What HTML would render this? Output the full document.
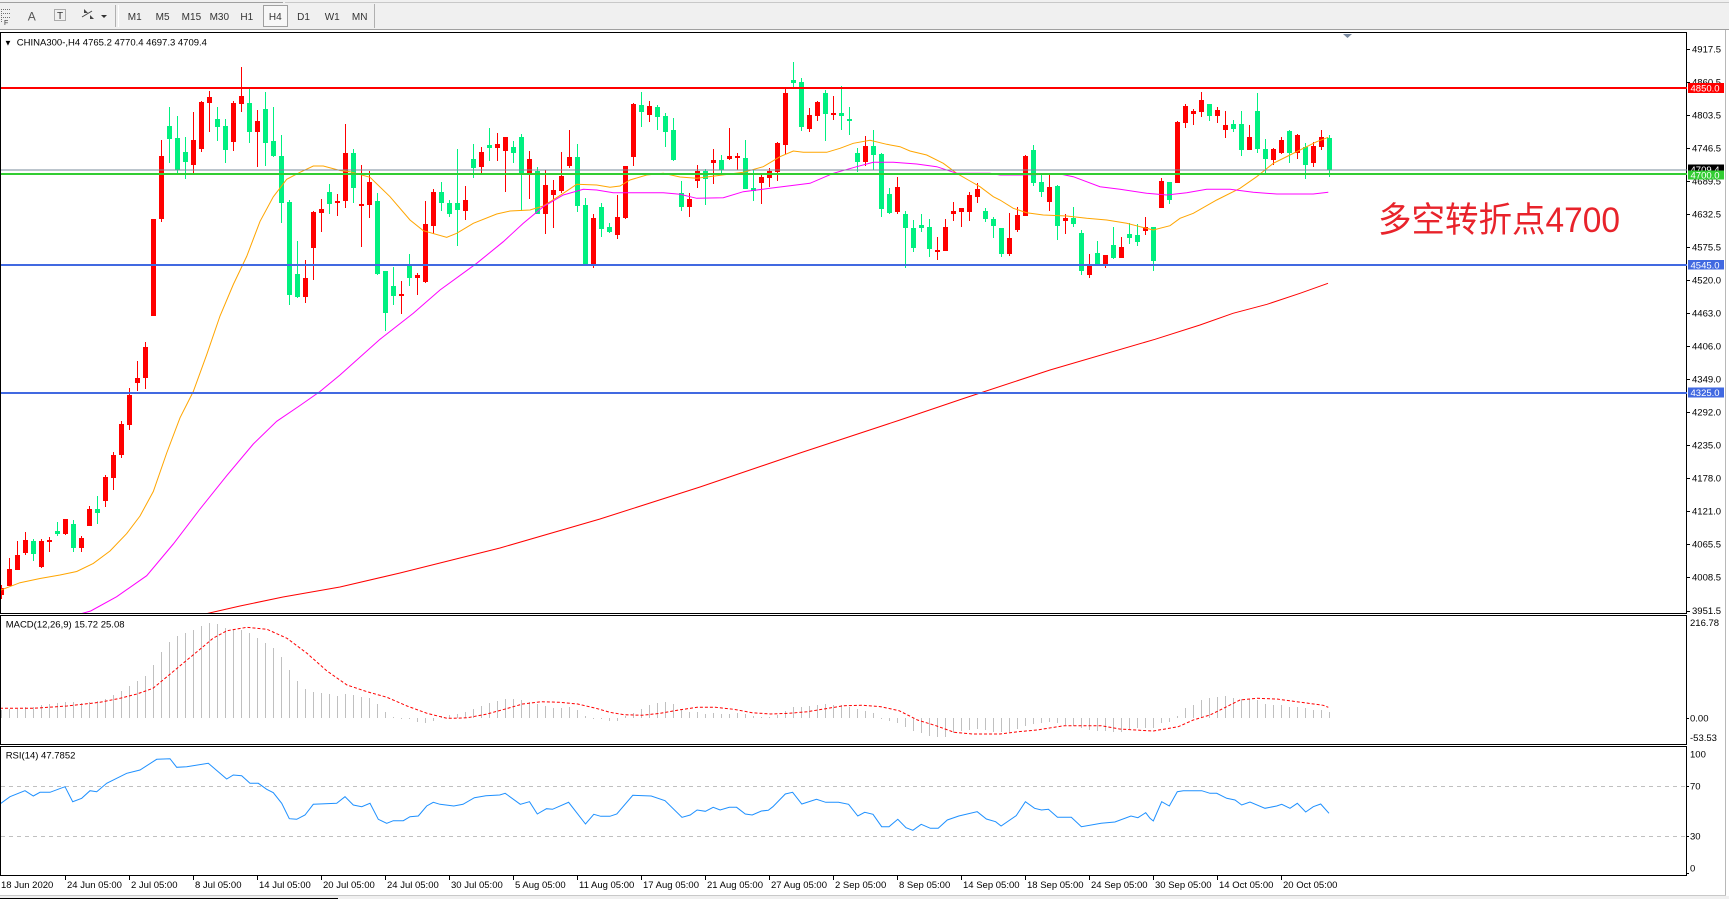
<!DOCTYPE html>
<html><head><meta charset="utf-8">
<style>
html,body{margin:0;padding:0;background:#fff;}
body{width:1729px;height:899px;overflow:hidden;}
svg text{font-family:"Liberation Sans","Noto Sans CJK SC",sans-serif;}
</style></head><body>
<svg id="s" width="1729" height="899" xmlns="http://www.w3.org/2000/svg">
<defs>
<clipPath id="cm"><rect x="1" y="34" width="1685" height="579"/></clipPath>
<clipPath id="cd"><rect x="1" y="616" width="1685" height="128"/></clipPath>
<clipPath id="cr"><rect x="1" y="747" width="1685" height="128"/></clipPath>
</defs>
<!-- toolbar -->
<rect x="0" y="0" width="1729" height="30" fill="#f0f0f0"/>
<line x1="0" y1="2.5" x2="283" y2="2.5" stroke="#a0a0a0"/>
<line x1="285" y1="2.5" x2="1729" y2="2.5" stroke="#c8c8c8"/>
<line x1="0" y1="29.5" x2="1729" y2="29.5" stroke="#a0a0a0"/>
<g stroke="#707070" stroke-dasharray="1,1" shape-rendering="crispEdges">
<line x1="1" y1="9.5" x2="10" y2="9.5"/><line x1="1" y1="13.5" x2="10" y2="13.5"/><line x1="1" y1="17.5" x2="10" y2="17.5"/>
<line x1="1.5" y1="9" x2="1.5" y2="22"/>
</g>
<text x="4" y="25" font-size="7" fill="#333">F</text>
<text x="31.8" y="20.5" font-size="12" fill="#555" text-anchor="middle">A</text>
<rect x="54.5" y="9.5" width="11" height="11" fill="none" stroke="#666" stroke-dasharray="1,1"/>
<text x="60" y="19" font-size="10" fill="#333" text-anchor="middle">T</text>
<polygon points="84,9 88,13 84,13" fill="#444"/><polygon points="90,15 94,19 90,19" fill="#444"/>
<line x1="82" y1="17" x2="92" y2="11" stroke="#444"/>
<polygon points="101,15 107,15 104,18" fill="#333"/>
<g stroke="#b0b0b0" shape-rendering="crispEdges"><line x1="115.5" y1="5" x2="115.5" y2="27"/><line x1="118.5" y1="5" x2="118.5" y2="27" stroke="#fff"/><line x1="374.5" y1="4" x2="374.5" y2="28"/></g>
<rect x="263.5" y="5.5" width="24" height="21" fill="#f7f7f7" stroke="#a0a0a0"/>
<g font-size="10" fill="#333" text-anchor="middle">
<text x="134.7" y="20">M1</text><text x="162.6" y="20">M5</text><text x="191.4" y="20">M15</text><text x="219.3" y="20">M30</text><text x="246.8" y="20">H1</text><text x="275.3" y="20">H4</text><text x="303.5" y="20">D1</text><text x="332.2" y="20">W1</text><text x="359.7" y="20">MN</text>
</g>
<!-- frame -->
<line x1="1725.5" y1="30" x2="1725.5" y2="896" stroke="#b8b8b8"/>
<rect x="0" y="896" width="1729" height="3" fill="#f0f0f0"/>
<line x1="0" y1="895.5" x2="1726" y2="895.5" stroke="#c8c8c8"/>
<line x1="0" y1="898.5" x2="338" y2="898.5" stroke="#000"/>
<g fill="none" stroke="#000" shape-rendering="crispEdges">
<rect x="0.5" y="32.5" width="1686" height="581"/>
<rect x="0.5" y="615.5" width="1686" height="129"/>
<rect x="0.5" y="746.5" width="1686" height="129"/>
</g>
<polygon points="1343,34 1352,34 1347.5,38" fill="#7a8aa0"/>
<!-- candles -->
<g id="candles" clip-path="url(#cm)" shape-rendering="crispEdges"></g>
<!-- MAs -->
<g clip-path="url(#cm)" fill="none" stroke-width="1">
<polyline stroke="#ffa500" points="0,590.4 20,582.7 40,578.5 60,575 76.7,571.5 93.3,563.4 110,551 126.7,533.6 140,516 153.3,491.5 166.7,453 180,417.8 193.3,391.5 206.7,354.7 220,316 233.3,284.5 246.7,256.4 260,221.4 273.3,196.8 286.7,179.3 300,172.3 313.3,166 323.3,166 340,170.5 350,171.7 370,177.3 390,196.7 410,220 423.3,230.7 446.7,237.3 456.7,233.3 473.3,223.3 496.7,214 510,211 530,210 543.3,206 563.3,193.3 576.7,184.3 596.7,185 610,187.3 620,186 630,180 646.7,175 663.3,173.3 680,177 696.7,178.3 716.7,175.7 743.3,172.3 763.3,166.7 780,156.7 793.3,151 803.3,152.3 826.7,152.3 840,148.3 853.3,143.3 870,140.3 886.7,144.3 900,146.7 910,151 926.7,155 943.3,163.3 956.7,173.3 970,181 980,186.7 993.3,196.7 1000,200 1013.3,208.3 1026.7,212.7 1043.3,215 1066.7,216 1086.7,218.3 1106.7,220 1126.7,223.3 1140,226.7 1153.3,230 1170,225.7 1180,218.3 1193.3,213.3 1216.7,200 1240,188.3 1256.7,176.7 1273.3,163.3 1290,155 1306.7,146.7 1316.7,141.7 1328.3,137.3"/>
<polyline stroke="#ff00ff" points="80,614 90.7,611 116.7,596.7 146.7,575.7 173.3,544 200,509 226.7,475.7 253.3,444 276.7,421.3 300,405.5 320,391.5 340,375 380,339.3 413.3,313.3 440,290 476.7,263.3 503.3,241.7 523.3,223.3 543.3,206.7 563.3,195 583.3,189.3 596.7,190 613.3,192.7 663.3,192.7 680,194.3 696.7,198.3 723.3,197.7 743.3,191.7 770,188.3 810,183.3 833.3,173.3 856.7,166.7 873.3,162.3 893.3,162.3 916.7,164 936.7,166.7 956.7,173.3 990,173.3 1000,175 1020,175 1060,174 1073.3,176.7 1100,186.7 1120,189.3 1146.7,193.3 1166.7,195 1186.7,192.7 1206.7,189.3 1230,189.3 1253.3,192.3 1276.7,194 1313.3,194 1328.3,192.3"/>
<polyline stroke="#ff0000" points="205,614 240,606 283,597 340,587 400,573 500,548 600,519 700,487 800,453 900,420 965,398 1050,370 1155,339.3 1200,325 1233,313.3 1267,304.3 1300,293.3 1328,283.3"/>
</g>
<!-- horizontal lines -->
<g shape-rendering="crispEdges">
<rect x="1" y="87" width="1686" height="2" fill="#ff0000"/>
<rect x="1" y="169.5" width="1686" height="1" fill="#778899"/>
<rect x="1" y="173" width="1686" height="2" fill="#32cd32"/>
<rect x="1" y="264" width="1686" height="2" fill="#4169e1"/>
<rect x="1" y="392" width="1686" height="2" fill="#4169e1"/>
</g>
<text x="1378" y="232" font-size="35" fill="#e8232b" textLength="242" lengthAdjust="spacingAndGlyphs">多空转折点4700</text>
<text x="4" y="45.5" font-size="8" fill="#000">▼</text>
<text x="16.8" y="45.5" font-size="9.5" fill="#000">CHINA300-,H4  4765.2 4770.4 4697.3 4709.4</text>
<!-- price axis -->
<g id="axis" font-size="9.5" fill="#000"></g>
<g font-size="9.5" fill="#fff" shape-rendering="crispEdges">
<rect x="1688" y="83" width="36" height="10" fill="#ff0000"/><text x="1690.5" y="91.5">4850.0</text>
<rect x="1688" y="164.5" width="36" height="10" fill="#000"/><text x="1690.5" y="173">4709.4</text>
<rect x="1688" y="170.5" width="36" height="9" fill="#32cd32"/><text x="1690.5" y="178.5">4700.0</text>
<rect x="1688" y="260" width="36" height="9.5" fill="#4169e1"/><text x="1690.5" y="268.5">4545.0</text>
<rect x="1688" y="387.5" width="36" height="10" fill="#4169e1"/><text x="1690.5" y="396">4325.0</text>
</g>
<!-- MACD -->
<g id="hist" clip-path="url(#cd)" shape-rendering="crispEdges"></g>
<polyline clip-path="url(#cd)" fill="none" stroke="#ff0000" stroke-width="1" stroke-dasharray="3,2" points="0,708.3 33,708.3 67,706 100,702.3 120,698.3 137,694 153,688.3 167,676.7 187,660 200,649.3 213,638.3 227,630.7 247,627.3 267,629.3 287,638.3 307,653.3 327,671 347,685 367,691.7 387,697.3 407,706 427,713.3 447,718.3 454,718.3 467.5,717.7 485.9,714.3 504.3,709.3 522.6,704 541,701.7 559.4,702.3 577.7,704 596.1,708.3 609.9,712.3 623.7,714.7 642,715.3 660.4,713.3 678.7,710 697.1,707.3 715.5,707.3 733.8,709.3 752.2,712.7 770.6,714 788.9,713.3 807.3,711.7 825.7,708.7 844,705.7 862.4,705.3 880.8,706.7 899.1,710.7 917.5,720 935.9,725.7 954.2,732.3 972.6,734 1000.1,734 1018.5,731.7 1036.9,730 1064.4,725.7 1101.2,725.7 1119.5,729 1147,730.7 1153.3,731 1178.3,726.7 1193.3,720 1210,715 1226.7,706.7 1240,700 1256.7,698.3 1276.7,699 1296.7,701.7 1323.3,705.3 1328.3,707.3"/>
<text x="5.7" y="627.5" font-size="9.5" fill="#000">MACD(12,26,9) 15.72 25.08</text>
<g font-size="9.5" fill="#000">
<text x="1690" y="626">216.78</text><text x="1690" y="721.5">0.00</text><text x="1690" y="741">-53.53</text>
<text x="1690" y="757.3">100</text><text x="1690" y="789.5">70</text><text x="1690" y="839.5">30</text><text x="1690" y="871.5">0</text>
</g>
<g stroke="#000" shape-rendering="crispEdges"><line x1="1686" y1="718.5" x2="1689" y2="718.5"/><line x1="1686" y1="786.5" x2="1689" y2="786.5"/><line x1="1686" y1="836.5" x2="1689" y2="836.5"/><line x1="1686" y1="873.5" x2="1689" y2="873.5"/></g>
<!-- RSI -->
<g stroke="#c0c0c0" stroke-dasharray="4,4" shape-rendering="crispEdges">
<line x1="1" y1="786.5" x2="1686" y2="786.5"/><line x1="1" y1="836.5" x2="1686" y2="836.5"/>
</g>
<polyline clip-path="url(#cr)" fill="none" stroke="#1e90ff" stroke-width="1" points="0,804 10,796.7 25,790.7 33.3,796 40,792.3 50,792.3 65,786.7 72.7,801.7 81.7,798.3 90,790.7 96.7,791.7 106.7,783.3 126.7,773.3 140,770 156.7,759.3 170,758.7 176.7,767.3 186.7,766.7 208.3,763.3 226.7,779 233.3,775 241.7,775.7 250,783.3 258.3,783.3 266.7,789.3 273.3,792.7 281.7,803.3 289.3,818.7 296.7,819.3 305,815 313.3,804.3 336.7,803.3 345,796.7 353.3,805 361.7,806.7 370,803.3 378.3,819.3 386.7,823.3 393.3,820.7 403.3,820.7 410,816.7 418.3,816 426.7,806 433.3,802.3 440,804.3 453.8,806 463,804.3 474.4,797.7 485.9,795.7 499.7,795 505.2,793.3 520.3,804.3 529.5,801.7 537.3,814 546.5,808.7 552.5,809.3 568.6,802.3 585.5,824 593.8,814.3 600.7,816.3 609.9,816.3 616.8,814 632.8,795.3 651.2,796 665,800.7 682,817.3 690.2,815 697.1,810 705.4,811.3 713.2,807.3 720.1,810 729.3,807.3 736.6,807.3 745.3,814 752.2,815 761.4,811 768.3,810.3 772.9,806.7 785.3,794 792.6,792.3 801.8,804 816.5,799.3 825.7,802.3 838.5,802.3 848.6,804.3 857.8,816 864.7,812.3 873,814.3 881.7,826.7 889,826.7 897.8,819.3 906,827.7 912.9,830.3 921.2,824.3 930.4,828.3 938.2,828.3 947.3,820 958.8,816 977.2,811.7 986.4,819 995.6,821.7 1001.1,826 1016.2,815.7 1025.4,801.7 1034.6,808.3 1041.5,810 1048.4,809.3 1057.5,817.3 1071.3,817.3 1081.4,826.7 1101.2,823.3 1114.9,822 1131,816 1137.9,817.7 1145.7,812.7 1150,818.3 1153.3,821 1161.7,801.7 1169.3,806 1177.3,791.7 1183.3,790.7 1201.7,790.7 1210,793.3 1216.7,793.3 1226.7,798.3 1235,800 1241.7,805 1250,802 1265,808.3 1276.7,806 1281.7,804.3 1290,808.3 1297.3,803.3 1305.7,812 1313.3,806.7 1320.7,804 1329,813.3"/>
<text x="5.7" y="758.5" font-size="9.5" fill="#000">RSI(14) 47.7852</text>
<!-- dates -->
<g id="dates" font-size="9.5" fill="#000"></g>
</svg>
<script>
(function(){
var NS='http://www.w3.org/2000/svg';
function el(p,t,a,txt){var e=document.createElementNS(NS,t);for(var k in a)e.setAttribute(k,a[k]);if(txt!==undefined)e.textContent=txt;p.appendChild(e);return e;}
var C=[[1,588,595,585,598.5],[1,568.7,586.2,558.1,586.2],[1,555,569.7,541,569.7],[1,539.9,552.5,531.8,554.6],[0,540.6,553.6,538.8,560.6],[1,540.6,566.6,538.8,568],[1,539.5,541.6,537.1,551.8],[0,531.1,533.6,522,536.4],[1,519.2,533.9,519,534.6],[0,524.1,547.6,519.9,552.2],[1,537.8,547.6,536.4,552.2],[1,509,525.9,506.2,526],[0,509,512.5,496,523.8],[1,476.8,501.3,475,507.3],[1,455.4,477.5,451.8,489.7],[1,424.1,454.7,420.6,458.2],[1,395,424.8,388,430.1],[1,378.2,383.4,360.6,390.8],[1,347,378.2,341.7,388.7],[1,218.9,315.7,218.9,315.7],[1,156.1,218.9,140,222.4],[0,126,138.6,106.7,162.8],[0,137.5,170.2,116.1,174],[0,151.9,161.7,137.2,178.6],[1,140,164.5,111.9,174],[1,102.1,148.8,101,151.9],[1,96.5,102.8,90.9,131.9],[0,118.9,126.7,107.4,141],[0,126,150.2,118.9,162.8],[1,103.1,141.7,101.4,150.5],[1,96.1,103.5,67,111.6],[0,103.1,131.9,89.1,143.1],[1,121,131.6,110.2,167],[0,109.1,143.1,91.9,165.6],[0,141,156.1,106.7,157.2],[0,156.1,202.8,134.7,223.1],[0,202.1,294.7,200.3,304.5],[0,274,297.1,241,298.2],[1,277.5,297.1,260,302.8],[1,211.9,248,211.2,280],[1,209.1,212.6,198.9,231.9],[0,191.9,203.8,183.8,213.7],[1,201,202.8,193.5,215.5],
[1,153,201,124,207.7],[0,153,187.7,149,202.7],[1,204,205.7,165,246.7],[1,182,204.7,170.7,217.7],[0,201,273.7,193.3,275],[0,271,312.7,271,330.7],[0,286,295.7,266.7,305],[1,294,295.7,281,314],[0,265,277.7,254,285.7],[1,275,277.7,272.7,295],[1,224,281.7,201,282.7],[1,192,225.7,189,234],[0,192,202.7,182,211],[0,203.3,214,200,216.7],[0,203.3,209.7,149,245.7],[1,200,210.7,186,219.7],[0,159,167.7,144,177.7],[1,152,166.7,147.3,172.7],[0,145,147.7,128,160.7],[1,144,147.7,133,160.7],[1,137,150.7,137,191.7],[0,147.3,153,140.7,162.7],[0,137,174.3,133.7,211],[1,159,173.7,150.7,198.7],[0,171,214,167,214],[1,185,213.7,170.3,233.7],[1,190,195,180,228.3],[1,175.7,190.7,152,193],[1,157,166,130,167.7],[0,157,205.7,144,211.7],[0,205,264,198.3,264],[1,218,264,214.3,268.3],[0,207,228.7,202.7,236.7],[0,227,231.7,222.7,232.7],[1,217,234.7,194.7,239.3],[1,166,218,166,219],[1,103.7,156.7,102.7,166],[0,105,111.7,92,126.7],[1,106.3,114.7,101,122],[0,107,116.7,105,130],[0,116,132,113.3,146.7],[0,130,160,118.3,161],
[0,193,206.7,181,210.7],[1,199,206.7,193,216.7],[1,170.7,180.7,165,187.7],[0,170.7,179,168.7,204.7],[1,160.3,162.7,149,183.7],[0,160.3,170.3,155,174],[1,156,158.7,128,159.7],[1,155.7,157.7,153,170.3],[0,158,188.7,140,188.7],[0,188.3,191,170.3,200.7],[1,176.7,182.7,175,203.7],[1,170.7,177.7,168,186.7],[1,143,171.7,142.3,180.7],[1,93,144.7,88.3,154],[0,80,82.7,62,87],[0,82,126.7,78,130.7],[1,115,128.7,108.3,131.7],[1,102,115.7,100.7,120.7],[0,93,114,90,140.7],[1,113,115,96,120],[0,113,115.7,86,130],[0,119,120.7,107,135],[0,153,162,148.3,171.7],[1,146,162,136,166],[0,146,154.7,130,170.3],[0,154,208.7,153,216.7],[0,194,212.7,188.3,213.7],[1,187,211.7,177,213.7],[0,214,227.7,211,267.7],[0,228,247.7,220,251.7],[0,225,227.7,214,231.7],[0,227,248.7,219,256.7],[1,250,251.7,237,259.7],[1,227,250.7,219,250.7],[1,211,213.7,202,220.7],[1,208,211.7,208,226.7],[1,195,211.7,192,220.7],[1,189,196.7,183,202.7],[0,211,218.7,208,221.7],[0,219,225.7,217,237.7],[0,228,253.7,228,256.7],
[1,238,253.5,213,255.7],[1,215,229.7,207,232],[1,156,215.7,155.3,215.7],[0,150,183.3,145,185.7],[0,182,191.7,175,196.7],[1,187,201.7,173,211],[0,186,225.7,185,240],[1,218,220.7,214,234],[0,218,223.7,207,226.7],[0,233.3,270.7,230,275],[1,266,275.3,254,277.7],[0,253,264,241,264],[1,255,264,255,267.7],[0,245,258,226.7,259],[1,247,257.7,237,257.7],[0,234,237.7,223,243.7],[0,235,241.7,223.7,246],[1,227,230.7,217,234.7],[0,227,261,227,270.7],[1,181,207.7,178,207.7],[0,182,200,182,204],[1,122,182.7,121,182.7],[1,106,122.7,103.7,128],[1,110.7,113.7,108.7,125],[1,100,111.7,92,116.7],[0,104,115.7,104,121],[1,110,115.7,107,123],[1,125,129.7,111,138],[0,124,129,120,132],[0,124,150,111,156],[1,137,150,125,150],[0,111,149,93,153],[0,149,159,139,173],[1,149,160,148,165],[1,140,153,137,154],[0,131,153,130,163],[1,135,153,134,159],[0,147,165,143,179],[1,146,163,142,167],[1,137,147,130,150],[0,137.8,170.2,134.8,177.3]];
var g=document.getElementById('candles');
C.forEach(function(c,i){
 var col=c[0]?'#ff0000':'#00f080';var x=8*i;
 var hi=Math.round(c[3]),lo=Math.round(c[4]),t=Math.round(c[1]),b=Math.round(c[2]);
 el(g,'rect',{x:x+1,y:hi,width:1,height:Math.max(1,lo-hi),fill:col});
 el(g,'rect',{x:x-1,y:t,width:5,height:Math.max(1,b-t),fill:col});
});
var H=[710,709.3,709,707.3,706.7,705,704,703.3,702,702,702.7,701.7,701,699.3,695,690.7,686,681,676,665,652.3,642,636,633.3,630,626,623.3,624,628.3,629.3,630,633.3,638.3,643.3,648.3,656.7,670,681,689.3,691.7,693.3,694.3,696,694.3,695,697.3,698.3,704,711.7,716.7,718,719.3,721.7,723.3,720.7,716,715,
713.7,711.7,708.7,706,703.3,700.7,699,699,700,702.3,704.3,706,707.7,707.7,706.7,710,716,719,718,720.7,721,715.7,713.3,709,705,703,702,704,709.3,712,712,713.7,713,713.7,713.7,712.7,714.3,716.3,716.7,717,715,711.3,707.3,706.7,705.7,705,704,705,705.3,706.7,709,711,713,718,720.7,722.7,726.7,730.7,732.7,735.7,737.3,737.3,732.7,730.7,730,729.3,730,731.7,732.3,731.7,729.3,725.7,724,722.7,722.3,723.3,725,726,727.7,730,731,731,731.7,731.7,729.3,727.7,727.7,
728.3,723.3,721.7,715.7,708.3,705,700,697.7,697,696,697.7,698.7,699.3,700,704,705,705,706.7,706.7,708.3,710,710,711.7];
var hg=document.getElementById('hist');var Z=718;
H.forEach(function(v,i){var y=Math.round(v);var t=Math.min(y,Z),h=Math.abs(y-Z);if(h<1)h=1;
 el(hg,'rect',{x:8*i+1,y:t,width:1,height:h,fill:'#c0c0c0'});});
var ax=document.getElementById('axis');
var T=[['4917.5',49.3],['4860.5',82.3],['4803.5',115.3],['4746.5',148.3],['4689.5',181.3],['4632.5',214.3],['4575.5',247.3],['4520.0',280.3],['4463.0',313.3],['4406.0',346.3],['4349.0',379.3],['4292.0',412.3],['4235.0',445.3],['4178.0',478.3],['4121.0',511.3],['4065.5',544.3],['4008.5',577.3],['3951.5',610.5]];
T.forEach(function(t){var y=Math.round(t[1])+0.5;
 el(ax,'line',{x1:1686,y1:y,x2:1690,y2:y,stroke:'#000','shape-rendering':'crispEdges'});
 el(ax,'text',{x:1692,y:t[1]+3.4},t[0]);});
var D=['18 Jun 2020','24 Jun 05:00','2 Jul 05:00','8 Jul 05:00','14 Jul 05:00','20 Jul 05:00','24 Jul 05:00','30 Jul 05:00','5 Aug 05:00','11 Aug 05:00','17 Aug 05:00','21 Aug 05:00','27 Aug 05:00','2 Sep 05:00','8 Sep 05:00','14 Sep 05:00','18 Sep 05:00','24 Sep 05:00','30 Sep 05:00','14 Oct 05:00','20 Oct 05:00'];
var dg=document.getElementById('dates');
D.forEach(function(d,k){var x=1+64*k;
 if(k>0)el(dg,'line',{x1:x+0.5,y1:876,x2:x+0.5,y2:880,stroke:'#000','shape-rendering':'crispEdges'});
 el(dg,'text',{x:(k==0?1:x+2),y:888},d);});
})();
</script>
</body></html>
